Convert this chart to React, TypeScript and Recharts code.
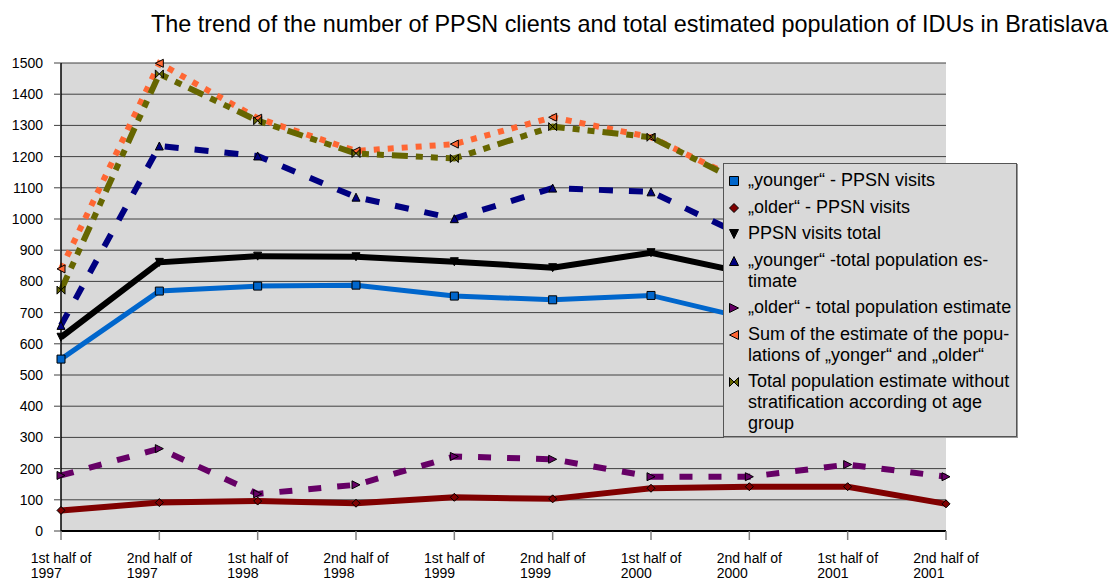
import React from "react";
import { LineChart, Line, XAxis, YAxis, CartesianGrid, Legend } from "recharts";

const categories = [
  "1st half of 1997", "2nd half of 1997", "1st half of 1998", "2nd half of 1998",
  "1st half of 1999", "2nd half of 1999", "1st half of 2000", "2nd half of 2000",
  "1st half of 2001", "2nd half of 2001",
];
const youngerVisits = [551, 769, 785, 788, 753, 741, 755, 680, 650, 590];
const olderVisits = [66, 91, 96, 89, 108, 103, 137, 142, 142, 87];
const totalVisits = [621, 861, 881, 879, 863, 844, 892, 825, 792, 677];
const youngerPop = [659, 1234, 1202, 1070, 1001, 1099, 1087, 937, 910, 870];
const olderPop = [178, 264, 119, 148, 239, 230, 174, 174, 213, 174];
const sumPop = [840, 1499, 1323, 1218, 1240, 1326, 1262, 1111, 1123, 1044];
const totalPop = [772, 1465, 1315, 1210, 1194, 1296, 1262, 1105, 1110, 1050];
const yTicks = [0, 100, 200, 300, 400, 500, 600, 700, 800, 900, 1000, 1100, 1200, 1300, 1400, 1500];

const legendNames = [
  "„younger“ - PPSN visits",
  "„older“ - PPSN visits",
  "PPSN visits total",
  "„younger“ -total population es-\ntimate",
  "„older“ - total population estimate",
  "Sum of the estimate of the popu-\nlations of „yonger“ and „older“",
  "Total population estimate without\nstratification according ot age\ngroup",
];

const data = categories.map((c, i) => ({
  cat: c,
  yv: youngerVisits[i],
  ov: olderVisits[i],
  tv: totalVisits[i],
  yp: youngerPop[i],
  op: olderPop[i],
  sp: sumPop[i],
  tp: totalPop[i],
}));

const FONT = '"Liberation Sans", Arial, sans-serif';

type ShapeKind = "square" | "diamond" | "down" | "up" | "right" | "left" | "bowtie";

function shapePath(kind: ShapeKind, x: number, y: number, r: number): string {
  switch (kind) {
    case "square":
      return `M${x - r},${y - r}H${x + r}V${y + r}H${x - r}Z`;
    case "diamond":
      return `M${x},${y - r}L${x + r},${y}L${x},${y + r}L${x - r},${y}Z`;
    case "down":
      return `M${x - r},${y - r}L${x + r},${y - r}L${x},${y + r}Z`;
    case "up":
      return `M${x - r},${y + r}L${x + r},${y + r}L${x},${y - r}Z`;
    case "right":
      return `M${x - r},${y - r}L${x + r},${y}L${x - r},${y + r}Z`;
    case "left":
      return `M${x + r},${y - r}L${x - r},${y}L${x + r},${y + r}Z`;
    case "bowtie":
      return `M${x - r},${y - r}L${x + r},${y + r}L${x + r},${y - r}L${x - r},${y + r}Z`;
  }
}

const series: { key: string; color: string; kind: ShapeKind; width: number; dash?: string }[] = [
  { key: "yv", color: "#0066CC", kind: "square", width: 5 },
  { key: "ov", color: "#800000", kind: "diamond", width: 6 },
  { key: "tv", color: "#000000", kind: "down", width: 6 },
  { key: "yp", color: "#000080", kind: "up", width: 6, dash: "14 16" },
  { key: "op", color: "#660066", kind: "right", width: 6, dash: "13 16" },
  { key: "sp", color: "#FF6633", kind: "left", width: 6, dash: "6 8" },
  { key: "tp", color: "#666600", kind: "bowtie", width: 6, dash: "16 8 7 8 7 8" },
];

function makeDot(kind: ShapeKind, color: string) {
  return (props: any) => {
    const { cx, cy, index } = props;
    if (cx == null || cy == null) return <g key={`d-${index}`} />;
    return (
      <path
        key={`d-${kind}-${index}`}
        d={shapePath(kind, cx, cy, 4)}
        fill={color}
        stroke="#000"
        strokeWidth={1}
      />
    );
  };
}

let measureCtx: CanvasRenderingContext2D | null = null;
function textWidth(t: string): number {
  if (typeof document === "undefined") return t.length * 6.5;
  if (!measureCtx) {
    const c = document.createElement("canvas");
    measureCtx = c.getContext("2d");
  }
  if (!measureCtx) return t.length * 6.5;
  measureCtx.font = `14px ${FONT}`;
  return measureCtx.measureText(t).width;
}

const XTick = (props: any) => {
  const { x, y, payload } = props;
  const v: string = payload.value;
  const idx = v.lastIndexOf(" ");
  const l1 = v.slice(0, idx);
  const l2 = v.slice(idx + 1);
  const w = textWidth(l1);
  const sx = x - w / 2;
  return (
    <g>
      <text x={sx} y={y + 21} fontSize={14} fontFamily={FONT} fill="#000" textAnchor="start">
        {l1}
      </text>
      <text x={sx} y={y + 36} fontSize={14} fontFamily={FONT} fill="#000" textAnchor="start">
        {l2}
      </text>
    </g>
  );
};

const LegendBox = () => (
  <div
    style={{
      width: 294,
      height: 274,
      boxSizing: "border-box",
      background: "#D9D9D9",
      border: "1px solid #555",
      boxShadow: "1px 1px 0 #999",
      padding: "6px 0 0 0",
      fontFamily: FONT,
      fontSize: 18,
      color: "#000",
    }}
  >
    {series.map((s, i) => (
      <div key={s.key} style={{ display: "flex", alignItems: "flex-start", marginBottom: 5.5 }}>
        <svg width={24} height={21} style={{ flex: "none" }}>
          <path d={shapePath(s.kind, 10, 11, 4.5)} fill={s.color} stroke="#000" strokeWidth={1} />
        </svg>
        <div style={{ whiteSpace: "pre", lineHeight: "21px" }}>{legendNames[i]}</div>
      </div>
    ))}
  </div>
);

export default function App() {
  return (
    <div style={{ position: "absolute", left: 0, top: 0, width: 1111, height: 579, background: "#fff", overflow: "hidden" }}>
      <div
        style={{
          position: "absolute",
          left: 151,
          top: 13.2,
          fontFamily: FONT,
          fontSize: 23.4,
          lineHeight: "23.4px",
          whiteSpace: "nowrap",
          color: "#000",
        }}
      >
        The trend of the number of PPSN clients and total estimated population of IDUs in Bratislava
      </div>
      <LineChart
        width={1111}
        height={579}
        data={data}
        margin={{ top: 63, right: 165, bottom: 0, left: 0 }}
        style={{ position: "absolute", left: 0, top: 0 }}
      >
        <CartesianGrid vertical={false} stroke="#404040" strokeWidth={1} fill="#D9D9D9" fillOpacity={1} />
        <XAxis
          dataKey="cat"
          height={48}
          interval={0}
          tick={<XTick />}
          tickSize={9}
          axisLine={{ stroke: "#000", strokeWidth: 2 }}
          tickLine={{ stroke: "#808080", strokeWidth: 1.5 }}
        />
        <YAxis
          width={61}
          domain={[0, 1500]}
          ticks={yTicks}
          interval={0}
          tickSize={7}
          tickMargin={11}
          tick={{ fontSize: 14, fontFamily: FONT, fill: "#000" }}
          axisLine={{ stroke: "#000", strokeWidth: 1.5 }}
          tickLine={{ stroke: "#404040", strokeWidth: 1 }}
        />
        {series.map((s, i) => (
          <Line
            key={s.key}
            dataKey={s.key}
            name={legendNames[i]}
            type="linear"
            stroke={s.color}
            strokeWidth={s.width}
            strokeDasharray={s.dash}
            strokeLinejoin="miter"
            dot={makeDot(s.kind, s.color)}
            activeDot={false}
            isAnimationActive={false}
          />
        ))}
        <Legend
          layout="vertical"
          align="center"
          verticalAlign="middle"
          content={<LegendBox />}
          wrapperStyle={{ left: 723, top: 163, width: 294, height: 274 }}
        />
      </LineChart>
    </div>
  );
}
